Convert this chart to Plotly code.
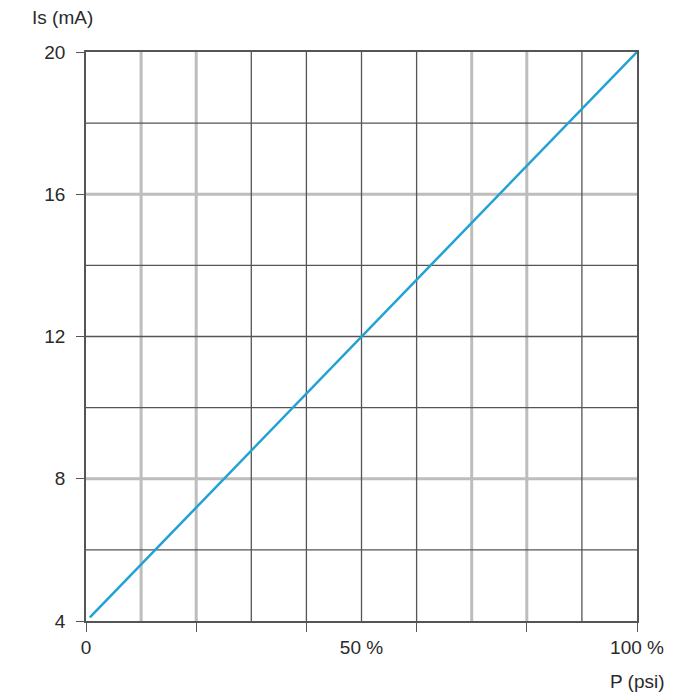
import plotly.graph_objects as go

# data
p_pct = [0.7, 100]
is_ma = [4.1, 20]

x_tick_vals = [0, 50, 100]
x_tick_text = ["0", "50 %", "100 %"]
x_mark_vals = [0, 20, 40, 60, 80, 100]
y_tick_vals = [4, 8, 12, 16, 20]
y_tick_text = ["4", "8", "12", "16", "20"]

dark_x = [30, 40, 50, 60, 90]
gray_x = [10, 20, 70, 80]
dark_y = [6, 10, 12, 14, 18]
gray_y = [8, 16]

DARK = "#555555"
GRAY = "#bdbdbd"

fig = go.Figure()
fig.add_trace(go.Scatter(x=p_pct, y=is_ma, mode="lines",
                         line=dict(color="#22a2d4", width=2.5),
                         hoverinfo="skip", showlegend=False))

shapes = []
for v in gray_x:
    shapes.append(dict(type="line", xref="x", yref="paper", x0=v, x1=v, y0=0, y1=1,
                       line=dict(color=GRAY, width=3), layer="below"))
for v in gray_y:
    shapes.append(dict(type="line", xref="paper", yref="y", x0=0, x1=1, y0=v, y1=v,
                       line=dict(color=GRAY, width=3), layer="below"))
for v in dark_x:
    shapes.append(dict(type="line", xref="x", yref="paper", x0=v, x1=v, y0=0, y1=1,
                       line=dict(color=DARK, width=1.3), layer="below"))
for v in dark_y:
    shapes.append(dict(type="line", xref="paper", yref="y", x0=0, x1=1, y0=v, y1=v,
                       line=dict(color=DARK, width=1.3), layer="below"))

font = dict(family="Liberation Sans, Arial, sans-serif", size=19, color="#2a2a2a")

fig.update_layout(
    width=700, height=700,
    margin=dict(l=78, r=71, t=44, b=87),
    paper_bgcolor="white", plot_bgcolor="white",
    font=font,
    shapes=shapes,
    xaxis=dict(range=[0, 100], tickmode="array", tickvals=x_tick_vals, ticktext=x_tick_text,
               ticks="", showgrid=False, zeroline=False,
               showline=True, linecolor=DARK, linewidth=1.5, mirror=True,
               minor=dict(tickmode="array", tickvals=x_mark_vals, ticks="outside",
                          ticklen=9, tickcolor=DARK, tickwidth=1.3, showgrid=False),
               tickfont=font, ticklabelstandoff=8),
    yaxis=dict(range=[4, 20], tickmode="array", tickvals=y_tick_vals, ticktext=y_tick_text,
               ticks="outside", ticklen=8, tickcolor=DARK, tickwidth=1.3,
               showgrid=False, zeroline=False,
               showline=True, linecolor=DARK, linewidth=1.5, mirror=True,
               tickfont=font, ticklabelstandoff=7),
    annotations=[
        dict(text="Is (mA)", xref="paper", yref="paper", x=-0.1016, y=1.0598,
             xanchor="left", yanchor="middle", showarrow=False, font=font),
        dict(text="P (psi)", xref="paper", yref="paper", x=1.0544, y=-0.1072,
             xanchor="right", yanchor="middle", showarrow=False, font=font),
    ],
)

fig.write_html("out.html")
